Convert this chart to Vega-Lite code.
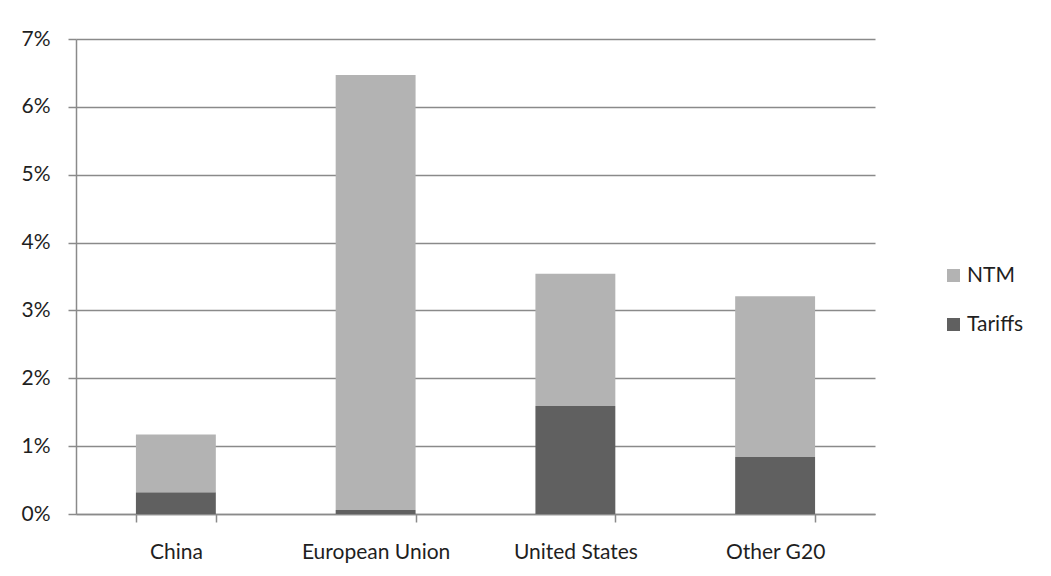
{
  "$schema": "https://vega.github.io/schema/vega-lite/v6.json",
  "width": 799,
  "height": 475,
  "autosize": {"type": "none"},
  "padding": {"left": 76, "top": 39, "right": 176, "bottom": 62},
  "background": "white",
  "data": {
    "values": [
      {"region": "China", "series": "Tariffs", "value": 0.0032},
      {"region": "China", "series": "NTM", "value": 0.0085},
      {"region": "European Union", "series": "Tariffs", "value": 0.0006},
      {"region": "European Union", "series": "NTM", "value": 0.0641},
      {"region": "United States", "series": "Tariffs", "value": 0.0159},
      {"region": "United States", "series": "NTM", "value": 0.0195},
      {"region": "Other G20", "series": "Tariffs", "value": 0.0084},
      {"region": "Other G20", "series": "NTM", "value": 0.0237}
    ]
  },
  "mark": {"type": "bar"},
  "encoding": {
    "x": {
      "field": "region",
      "type": "nominal",
      "sort": ["China", "European Union", "United States", "Other G20"],
      "scale": {"paddingInner": 0.6, "paddingOuter": 0.3},
      "axis": {
        "title": null,
        "labelAngle": 0,
        "tickBand": "extent",
        "tickSize": 8,
        "labelPadding": 19,
        "grid": false
      }
    },
    "y": {
      "field": "value",
      "type": "quantitative",
      "stack": "zero",
      "scale": {"domain": [0, 0.07], "nice": false},
      "axis": {
        "title": null,
        "values": [0, 0.01, 0.02, 0.03, 0.04, 0.05, 0.06, 0.07],
        "format": ".0%",
        "tickSize": 8,
        "labelPadding": 18,
        "grid": true
      }
    },
    "color": {
      "field": "series",
      "type": "nominal",
      "scale": {"domain": ["NTM", "Tariffs"], "range": ["#b3b3b3", "#606060"]},
      "legend": {
        "title": null,
        "orient": "none",
        "legendX": 867,
        "legendY": 226,
        "symbolType": "square",
        "symbolSize": 169,
        "symbolStrokeWidth": 0,
        "rowPadding": 27,
        "labelOffset": 3
      }
    },
    "order": {"field": "series", "sort": "descending"}
  },
  "config": {
    "font": "Lato",
    "view": {"stroke": null},
    "axis": {
      "labelFont": "Lato",
      "labelFontSize": 21,
      "labelColor": "#1f1f1f",
      "domainColor": "#8a8a8a",
      "domainWidth": 1.5,
      "tickColor": "#8a8a8a",
      "tickWidth": 1.5,
      "gridColor": "#8a8a8a",
      "gridWidth": 1.5,
      "gridOpacity": 1
    },
    "legend": {
      "labelFont": "Lato",
      "labelFontSize": 21,
      "labelColor": "#1f1f1f"
    }
  }
}
